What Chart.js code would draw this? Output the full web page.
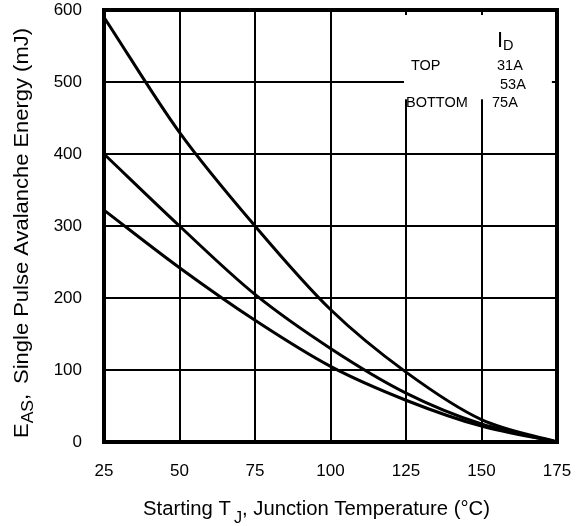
<!DOCTYPE html>
<html><head><meta charset="utf-8">
<script src="https://cdn.jsdelivr.net/npm/chart.js@4"></script>
<style>html,body{margin:0;padding:0;background:#fff}#wrap{width:581px;height:526px;position:relative}</style>
</head><body><div id="wrap"><canvas id="c" width="581" height="526"></canvas></div>
<script>
// ---- data ----
const temperatures = [25, 50, 75, 100, 125, 150, 175];
const energy31A = [590, 430, 300, 184, 97, 31, 0];
const energy53A = [400, 300, 205, 130, 68, 25, 0];
const energy75A = [322, 242, 169, 105, 58, 22, 0];
const xTicks = [25, 50, 75, 100, 125, 150, 175];
const yTicks = [0, 100, 200, 300, 400, 500, 600];
const legendPositions = ['TOP', '', 'BOTTOM'];
const legendCurrents = ['31A', '53A', '75A'];
const legendHeader = ['I', 'D'];
const xTitleParts = ['Starting T', 'J', ', Junction Temperature (°C)'];
const yTitleParts = ['E', 'AS', ',', 'Single Pulse Avalanche Energy (mJ)'];

const FONT = '"Liberation Sans", Arial, Helvetica, sans-serif';

function pts(vals) { return temperatures.map((t, i) => ({ x: t, y: vals[i] })); }
function ds(label, vals) {
  return { label, data: pts(vals), borderColor: '#000', borderWidth: 3, pointRadius: 0,
    fill: false, cubicInterpolationMode: 'monotone' };
}

const deco = {
  id: 'deco',
  beforeDatasetsDraw(chart) {
    const { ctx, scales: { x, y } } = chart;
    ctx.save();
    ctx.fillStyle = '#fff';
    const l = x.getPixelForValue(125) - 2, r = x.getPixelForValue(173.3);
    const t = y.getPixelForValue(593), b = y.getPixelForValue(476);
    ctx.fillRect(l, t, r - l, b - t);
    ctx.restore();
  },
  afterDraw(chart) {
    const { ctx, chartArea: a, scales: { x, y } } = chart;
    ctx.save();
    // frame
    ctx.strokeStyle = '#000';
    ctx.lineWidth = 4;
    ctx.strokeRect(a.left, a.top, a.right - a.left, a.bottom - a.top);
    // legend
    ctx.fillStyle = '#000';
    ctx.textBaseline = 'alphabetic';
    ctx.textAlign = 'left';
    const lx = x.getPixelForValue(125);
    ctx.font = '14.5px ' + FONT;
    ctx.fillText(legendPositions[0], lx + 5, 70);
    ctx.fillText(legendCurrents[0], lx + 91, 70);
    ctx.fillText(legendCurrents[1], lx + 94, 89);
    ctx.fillText(legendPositions[2], lx, 107);
    ctx.fillText(legendCurrents[2], lx + 86, 107);
    ctx.font = '22px ' + FONT;
    ctx.fillText(legendHeader[0], lx + 91, 47);
    const iw = ctx.measureText(legendHeader[0]).width;
    ctx.font = '14.5px ' + FONT;
    ctx.fillText(legendHeader[1], lx + 91 + iw, 50);

    // x title
    const xf = '20px ' + FONT, xs = '16px ' + FONT;
    ctx.font = xf; const w0 = ctx.measureText(xTitleParts[0]).width;
    const w2 = ctx.measureText(xTitleParts[2]).width;
    ctx.font = xs; const w1 = ctx.measureText(xTitleParts[1]).width + 3;
    const tot = w0 + w1 + w2;
    ctx.save();
    const xTarget = 347, xsc = xTarget / tot;
    ctx.translate(316.5 - xTarget / 2, 515);
    ctx.scale(xsc, 1);
    ctx.font = xf; ctx.fillText(xTitleParts[0], 0, 0);
    ctx.font = xs; ctx.fillText(xTitleParts[1], w0 + 3, 8);
    ctx.font = xf; ctx.fillText(xTitleParts[2], w0 + w1, 0);
    ctx.restore();

    // y title
    ctx.save();
    ctx.font = xf; const v0 = ctx.measureText(yTitleParts[0]).width;
    const v2 = ctx.measureText(yTitleParts[2]).width;
    const v3 = ctx.measureText(yTitleParts[3]).width;
    ctx.font = xs; const v1 = ctx.measureText(yTitleParts[1]).width;
    const gap = 9;
    const vt = v0 + v1 + v2 + gap + v3;
    const yTarget = 410, ysc = yTarget / vt;
    ctx.translate(28, 233 + yTarget / 2);
    ctx.rotate(-Math.PI / 2);
    ctx.scale(ysc, 1);
    ctx.font = xf; ctx.fillText(yTitleParts[0], 0, 0);
    ctx.font = xs; ctx.fillText(yTitleParts[1], v0, 5);
    ctx.font = xf; ctx.fillText(yTitleParts[2], v0 + v1, 0);
    ctx.fillText(yTitleParts[3], v0 + v1 + v2 + gap, 0);
    ctx.restore();
    ctx.restore();
  }
};

function zeroPad(s) { s.paddingTop = 0; s.paddingBottom = 0; s.paddingLeft = 0; s.paddingRight = 0; }

new Chart(document.getElementById('c'), {
  type: 'line',
  data: { datasets: [ds('31A', energy31A), ds('53A', energy53A), ds('75A', energy75A)] },
  options: {
    responsive: false, animation: false, devicePixelRatio: 1,
    layout: { padding: { top: 10, right: 24, left: 0, bottom: 0 } },
    plugins: { legend: { display: false }, tooltip: { enabled: false } },
    scales: {
      x: {
        type: 'linear', min: 25, max: 175,
        afterBuildTicks: s => { s.ticks = xTicks.map(v => ({ value: v })); },
        afterFit: s => { s.height = 84; zeroPad(s); },
        ticks: { color: '#000', font: { family: FONT, size: 17 }, padding: 19, maxRotation: 0, autoSkip: false },
        grid: { color: '#000', lineWidth: 2, drawTicks: false },
        border: { display: false }
      },
      y: {
        min: 0, max: 600,
        afterBuildTicks: s => { s.ticks = yTicks.map(v => ({ value: v })); },
        afterFit: s => { s.width = 104; zeroPad(s); },
        ticks: { color: '#000', font: { family: FONT, size: 17 }, padding: 22 },
        grid: { color: '#000', lineWidth: 2, drawTicks: false },
        border: { display: false }
      }
    }
  },
  plugins: [deco]
});
</script></body></html>
